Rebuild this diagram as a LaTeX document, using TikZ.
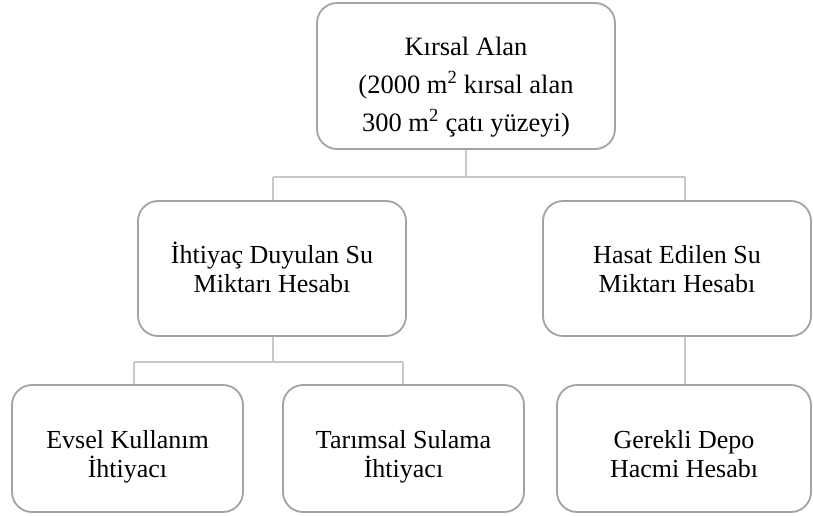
\documentclass[tikz,border=0pt]{standalone}
\usepackage{fontspec}
\setmainfont{Liberation Serif}
\definecolor{boxgray}{HTML}{A3A3A3}
\definecolor{conngray}{HTML}{C8C8C8}
\newcommand\fstrut[1]{\rule{0pt}{#1}}
\newcommand\lstrut{\rule[-7pt]{0pt}{7pt}}
\tikzset{
  box/.style={draw=boxgray, line width=1.8pt, rounded corners=20pt, align=center,
    inner sep=0pt, fill=white, font=\fontsize{26}{29}\selectfont},
  conn/.style={draw=conngray, line width=2pt}
}
\begin{document}
\begin{tikzpicture}[x=1pt,y=-1pt]
\useasboundingbox (0,0) rectangle (813,515);
\node[box, minimum width=298pt, minimum height=146pt, font=\fontsize{26.5}{38}\selectfont] (top) at (466,76)
  {\fstrut{41pt}Kırsal Alan\\(2000 m\textsuperscript{2} kırsal alan\\300 m\textsuperscript{2} çatı yüzeyi)\lstrut};
\node[box, minimum width=268pt, minimum height=135pt] (ml) at (272,268.5) {\fstrut{25pt}İhtiyaç Duyulan Su\\Miktarı Hesabı\lstrut};
\node[box, minimum width=268pt, minimum height=135pt] (mr) at (677,268.5) {\fstrut{25pt}Hasat Edilen Su\\Miktarı Hesabı\lstrut};
\node[box, minimum width=231pt, minimum height=127pt] (b1) at (127.5,448.5) {\fstrut{35pt}Evsel Kullanım\\İhtiyacı\lstrut};
\node[box, minimum width=241pt, minimum height=127pt] (b2) at (403.5,448.5) {\fstrut{35pt}Tarımsal Sulama\\İhtiyacı\lstrut};
\node[box, minimum width=254pt, minimum height=127pt] (b3) at (684,448.5) {\fstrut{35pt}Gerekli Depo\\Hacmi Hesabı\lstrut};
\coordinate (hl) at (273,177);
\coordinate (hr) at (685,177);
\coordinate (bl) at (134,362);
\coordinate (br) at (403,362);
\draw[conn] (top.south) -- (top.south |- hl);
\draw[conn] (hl) -- (hr);
\draw[conn] (hl) -- (hl |- ml.north);
\draw[conn] (hr) -- (hr |- mr.north);
\draw[conn] (ml.south -| hl) -- (hl |- bl);
\draw[conn] (bl) -- (br);
\draw[conn] (bl) -- (bl |- b1.north);
\draw[conn] (br) -- (br |- b2.north);
\draw[conn] (mr.south -| hr) -- (hr |- b3.north);
\end{tikzpicture}
\end{document}
